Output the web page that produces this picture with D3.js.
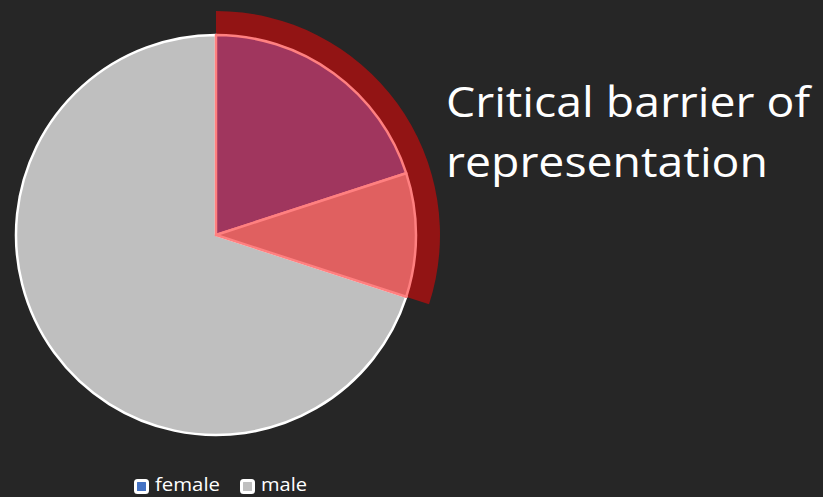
<!DOCTYPE html>
<html>
<head>
<meta charset="utf-8">
<script src="https://cdn.jsdelivr.net/npm/d3@7"></script>
<style>
  html, body { margin: 0; padding: 0; background: #262626; }
  svg { display: block; }
</style>
</head>
<body>
<svg id="chart"></svg>
<script>
const svg_w = 823;
const svg_h = 497;

// slices of the pie, clockwise from 12 o'clock
const slices = ["female_a", "female_b", "male"];
const slice_values = [20, 10, 70];
const slice_fill = ["#a0365e", "#e06060", "#bfbfbf"];
const slice_stroke = ["#ff8080", "#ff8080", "#ffffff"];

// outer highlight band (share of female)
const band_values = [30, 70];

// legend
const legend_labels = ["female", "male"];
const legend_colors = ["#4472c4", "#bfbfbf"];

const title_lines = ["Critical barrier of", "representation"];

const cx = 216, cy = 235, r = 200;

let svg = d3.select("#chart")
  .attr("width", svg_w)
  .attr("height", svg_h);

svg.append("rect")
  .attr("width", svg_w)
  .attr("height", svg_h)
  .attr("fill", "#262626");

let pie = d3.pie().sort(null).value(d => d);
let arcs = pie(slice_values);
let band = pie(band_values)[0];

let g = svg.append("g").attr("transform", `translate(${cx},${cy})`);

// highlight band outside the pie
g.append("path")
  .attr("d", d3.arc().innerRadius(r - 2).outerRadius(r + 24)(band))
  .attr("fill", "#921414");

let arc = d3.arc().innerRadius(0).outerRadius(r);

// gray slice first so the coloured ones sit on top
let order = [2, 0, 1];
g.selectAll("path.slice")
  .data(order.map(i => ({a: arcs[i], i: i})))
  .enter()
  .append("path")
  .attr("class", "slice")
  .attr("d", d => arc(d.a))
  .attr("fill", d => slice_fill[d.i])
  .attr("stroke", d => slice_stroke[d.i])
  .attr("stroke-width", 2.5)
  .attr("stroke-linejoin", "round");

// title
let title = svg.append("text")
  .attr("fill", "#ffffff")
  .attr("font-family", "'Open Sans', sans-serif")
  .attr("font-size", 42);
title.selectAll("tspan")
  .data(title_lines)
  .enter()
  .append("tspan")
  .attr("x", 446)
  .attr("y", (d, i) => 117 + i * 60)
  .attr("textLength", (d, i) => i == 0 ? 364 : 322)
  .attr("lengthAdjust", "spacingAndGlyphs")
  .text(d => d);

// legend
let lx = [134, 240];
let lw = [65, 46];
let legend = svg.append("g");
let items = legend.selectAll("g")
  .data(legend_labels)
  .enter()
  .append("g")
  .attr("transform", (d, i) => `translate(${lx[i]},479)`);
items.append("rect")
  .attr("x", 1.5).attr("y", 1.5)
  .attr("width", 12).attr("height", 12)
  .attr("rx", 2)
  .attr("fill", (d, i) => legend_colors[i])
  .attr("stroke", "#ffffff")
  .attr("stroke-width", 3);
items.append("text")
  .attr("x", 21)
  .attr("y", 12)
  .attr("fill", "#ffffff")
  .attr("font-family", "'Open Sans', sans-serif")
  .attr("font-size", 18)
  .attr("textLength", (d, i) => lw[i])
  .attr("lengthAdjust", "spacingAndGlyphs")
  .text(d => d);
</script>
</body>
</html>
